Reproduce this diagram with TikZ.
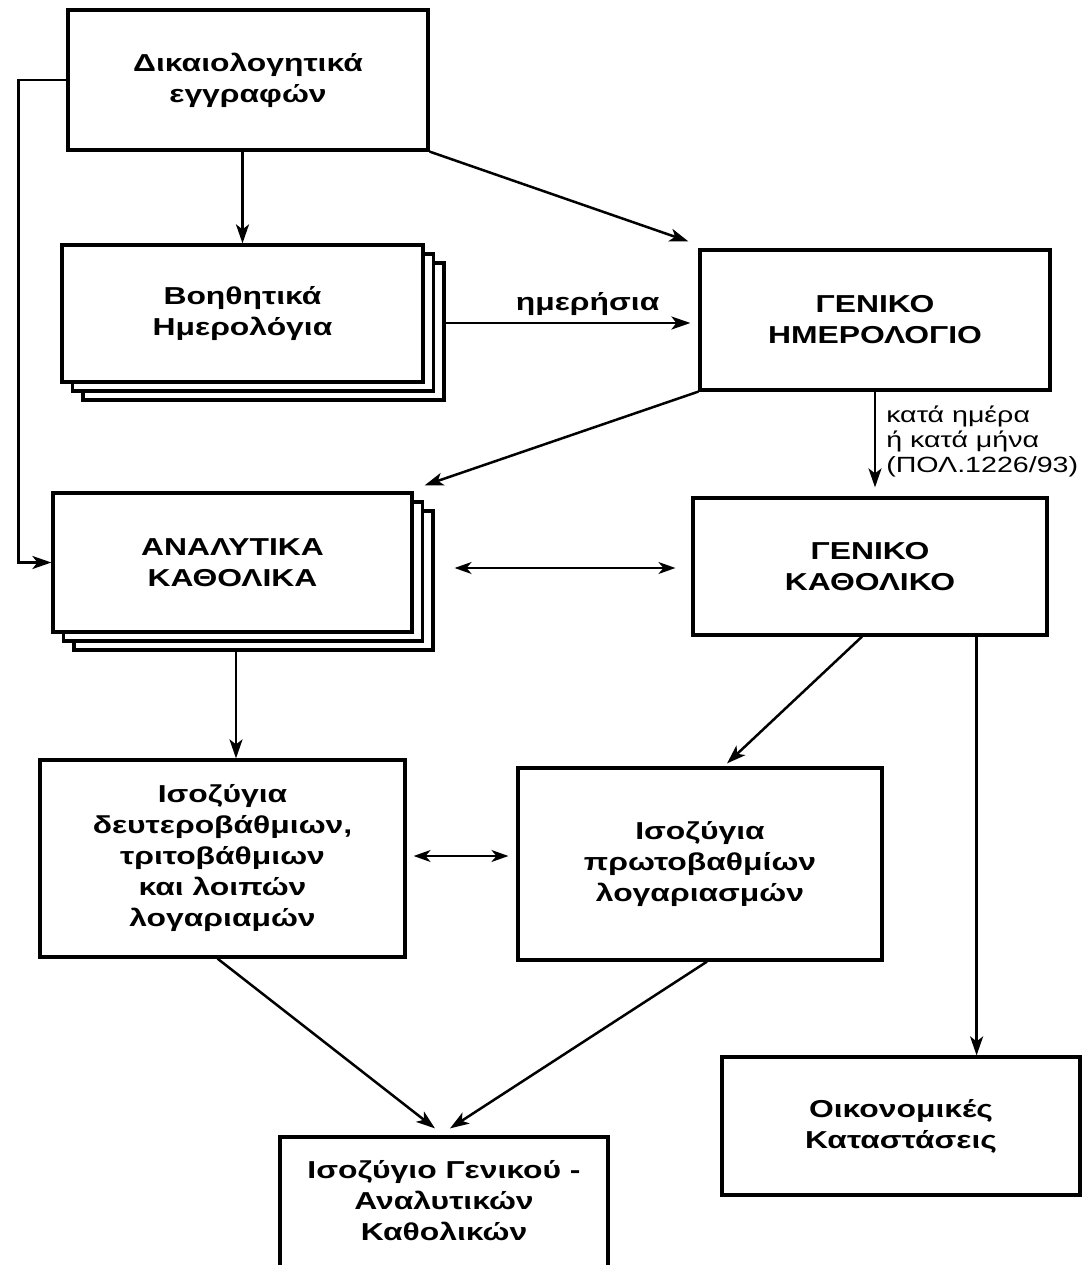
\documentclass[tikz,border=0pt]{standalone}
\usepackage{fontspec}
\newfontfamily\lab{Liberation Sans}[FakeStretch=1.3]
\usetikzlibrary{calc,arrows.meta,shadows}
\begin{document}
\begin{tikzpicture}[x=1pt,y=-1pt,
  box/.style={draw=black, line width=3.2pt, fill=white, align=center, inner sep=0pt,
    font=\lab\bfseries\fontsize{24.5}{31}\selectfont},
  stack/.style={box, double copy shadow={shadow xshift=10.5pt, shadow yshift=-9pt, fill=white, draw=black, line width=3.2pt}},
  arr/.style={line width=2.5pt, -{Stealth[length=19pt,width=13pt,inset=5pt]}},
  darr/.style={line width=1.8pt, {Stealth[length=17pt,width=12pt,inset=5pt]}-{Stealth[length=17pt,width=12pt,inset=5pt]}},
  lbl/.style={font=\lab\fontsize{22}{25}\selectfont, align=left, inner sep=0pt}
]
\useasboundingbox (0,0) rectangle (1088,1265);
\fill[white] (0,0) rectangle (1088,1265);
\clip (0,0) rectangle (1088,1265);

\node[box, minimum width=360pt, minimum height=140pt] (b1) at (248,80) {Δικαιολογητικά\\εγγραφών};
\node[stack, minimum width=361pt, minimum height=137pt] (b2) at (242.5,313.5) {Βοηθητικά\\Ημερολόγια};
\node[box, minimum width=350pt, minimum height=140pt] (b3) at (875,320) {ΓΕΝΙΚΟ\\ΗΜΕΡΟΛΟΓΙΟ};
\node[stack, minimum width=359pt, minimum height=139pt] (b4) at (232.5,562.5) {ΑΝΑΛΥΤΙΚΑ\\ΚΑΘΟΛΙΚΑ};
\node[box, minimum width=354pt, minimum height=137pt] (b5) at (870,566.5) {ΓΕΝΙΚΟ\\ΚΑΘΟΛΙΚΟ};
\node[box, minimum width=365pt, minimum height=197pt] (b6) at (222.5,858.5) {Ισοζύγια\\δευτεροβάθμιων,\\τριτοβάθμιων\\και λοιπών\\λογαριαμών};
\node[box, minimum width=364pt, minimum height=192pt] (b7) at (700,864) {Ισοζύγια\\πρωτοβαθμίων\\λογαριασμών};
\node[box, minimum width=328pt, minimum height=150pt] (b8) at (444,1212) {};
\node[box, draw=none, fill=none] (b8t) at (444,1201) {Ισοζύγιο Γενικού -\\Αναλυτικών\\Καθολικών};
\node[box, minimum width=358pt, minimum height=138pt] (b9) at (901,1126) {Οικονομικές\\Καταστάσεις};

% connectors
\draw[arr] (b2.north |- b1.south) -- (b2.north);
\draw[arr] (b1.south east) -- ($(b3.north west)+(-10,-7)$);
\draw[arr] ($(b2.east)+(21,9.5)$) -- node[pos=0.58, above=6pt, font=\lab\bfseries\fontsize{24.5}{31}\selectfont, inner sep=0pt] {ημερήσια} ($(b3.west)+(-8,3)$);
\draw[arr] (b3.south west) -- ($(b4.north east)+(11,-6)$);
\draw[arr] (b3.south) -- ($(b3.south |- b5.north)+(0,-9)$)
  node[lbl, anchor=north west] at ($(b3.south)+(10,13)$) {κατά ημέρα\\ή κατά μήνα\\(ΠΟΛ.1226/93)};
\draw[arr] (b1.west) -- ++(-48,0) |- (b4.west);
\draw[darr] ($(b4.east)+(41,5.5)$) -- ($(b5.west)+(-16,1.5)$);
\coordinate (t4) at ($(b4.south)+(3.5,18)$);
\draw[arr] (t4) -- (t4 |- b6.north);
\draw[arr] ($(b5.south)+(-8,0)$) -- ($(b7.north)+(27,-3)$);
\draw[darr] ($(b6.east)+(7,-2.5)$) -- ($(b7.west)+(-8,-8)$);
\coordinate (t5) at ($(b5.south east)+(-72,0)$);
\draw[arr] (t5) -- (t5 |- b9.north);
\draw[arr] ($(b6.south)+(-5,0)$) -- ($(b8.north)+(-9,-7)$);
\draw[arr] ($(b7.south)+(7,0)$) -- ($(b8.north)+(6,-7)$);
\end{tikzpicture}
\end{document}
